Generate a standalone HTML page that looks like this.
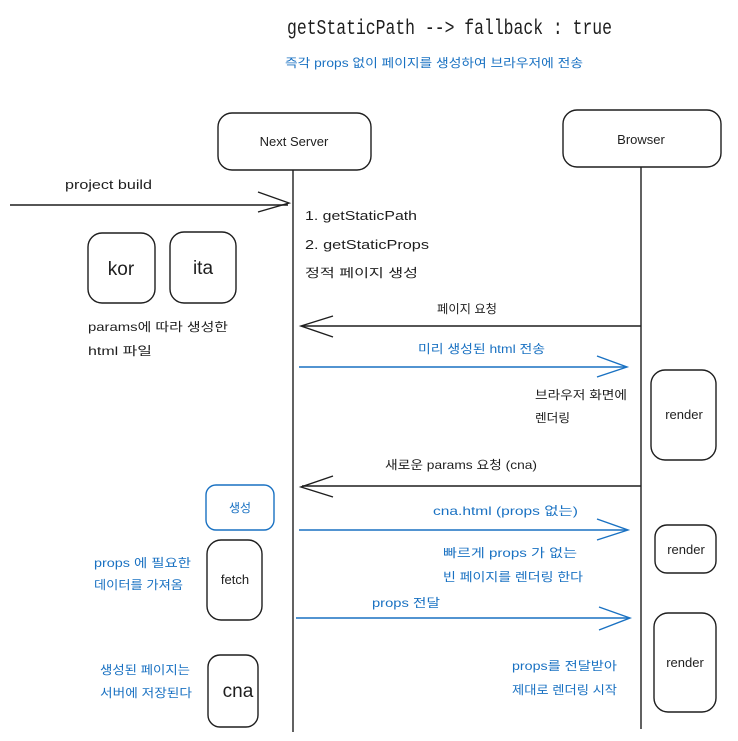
<!DOCTYPE html>
<html><head><meta charset="utf-8"><style>
html,body{margin:0;padding:0;background:#fff;}
svg text{font-family:"Liberation Sans","Noto Sans CJK KR",sans-serif;}
svg text.mono{font-family:"Liberation Mono",monospace;}
</style></head><body>
<svg width="738" height="736" viewBox="0 0 738 736" xmlns="http://www.w3.org/2000/svg">
<g fill="none" stroke="#1e1e1e" stroke-width="1.4">
<rect x="218" y="113" width="153" height="57" rx="14"/>
<rect x="563" y="110" width="158" height="57" rx="14"/>
<line x1="293" y1="170" x2="293" y2="732"/>
<line x1="641" y1="167" x2="641" y2="729"/>
<line x1="10" y1="205" x2="288" y2="205"/>
<polyline points="258,192 289,203 258,212"/>
<rect x="88" y="233" width="67" height="70" rx="14"/>
<rect x="170" y="232" width="66" height="71" rx="14"/>
<line x1="641" y1="326" x2="302" y2="326"/>
<polyline points="333,316 301,326 333,337"/>
<rect x="651" y="370" width="65" height="90" rx="14"/>
<line x1="641" y1="486" x2="302" y2="486"/>
<polyline points="333,476 301,487 333,497"/>
<rect x="655" y="525" width="61" height="48" rx="12"/>
<rect x="207" y="540" width="55" height="80" rx="14"/>
<rect x="654" y="613" width="62" height="99" rx="14"/>
<rect x="208" y="655" width="50" height="72" rx="12"/>
</g>
<g fill="none" stroke="#1971c2" stroke-width="1.4">
<line x1="299" y1="367" x2="626" y2="367"/>
<polyline points="597,356 627,367 597,377"/>
<rect x="206" y="485" width="68" height="45" rx="10"/>
<line x1="299" y1="530" x2="627" y2="530"/>
<polyline points="597,519 628,530 597,540"/>
<line x1="296" y1="618" x2="629" y2="618"/>
<polyline points="599,607 630,618 599,630"/>
</g>
<g fill="#1e1e1e" font-size="13">
<text class="mono" x="287" y="34" font-size="21" textLength="325" lengthAdjust="spacingAndGlyphs">getStaticPath --&gt; fallback : true</text>
<text x="294" y="146" text-anchor="middle">Next Server</text>
<text x="641" y="144" text-anchor="middle">Browser</text>
<text x="65" y="189" textLength="87" lengthAdjust="spacingAndGlyphs">project build</text>
<text x="305" y="220" textLength="112" lengthAdjust="spacingAndGlyphs">1. getStaticPath</text>
<text x="305" y="249" textLength="124" lengthAdjust="spacingAndGlyphs">2. getStaticProps</text>
<text x="305" y="277" font-size="12" textLength="113" lengthAdjust="spacingAndGlyphs">정적 페이지 생성</text>
<text x="121" y="275" font-size="19" text-anchor="middle">kor</text>
<text x="203" y="274" font-size="19" text-anchor="middle">ita</text>
<text x="88" y="331" font-size="12" textLength="140" lengthAdjust="spacingAndGlyphs">params에 따라 생성한</text>
<text x="88" y="355" font-size="12" textLength="64" lengthAdjust="spacingAndGlyphs">html 파일</text>
<text x="437" y="313" font-size="12" textLength="60" lengthAdjust="spacingAndGlyphs">페이지 요청</text>
<text x="535" y="399" font-size="12" textLength="92" lengthAdjust="spacingAndGlyphs">브라우저 화면에</text>
<text x="535" y="422" font-size="12" textLength="35" lengthAdjust="spacingAndGlyphs">렌더링</text>
<text x="684" y="419" text-anchor="middle">render</text>
<text x="385" y="469" font-size="12" textLength="152" lengthAdjust="spacingAndGlyphs">새로운 params 요청 (cna)</text>
<text x="686" y="554" text-anchor="middle">render</text>
<text x="235" y="584" text-anchor="middle">fetch</text>
<text x="685" y="667" text-anchor="middle">render</text>
<text x="238" y="697" font-size="19" text-anchor="middle">cna</text>
</g>
<g fill="#1971c2" font-size="12">
<text x="285" y="67" textLength="298" lengthAdjust="spacingAndGlyphs">즉각 props 없이 페이지를 생성하여 브라우저에 전송</text>
<text x="418" y="353" textLength="127" lengthAdjust="spacingAndGlyphs">미리 생성된 html 전송</text>
<text x="240" y="512" text-anchor="middle">생성</text>
<text x="433" y="515" textLength="145" lengthAdjust="spacingAndGlyphs">cna.html (props 없는)</text>
<text x="94" y="567" textLength="97" lengthAdjust="spacingAndGlyphs">props 에 필요한</text>
<text x="94" y="589" textLength="89" lengthAdjust="spacingAndGlyphs">데이터를 가져옴</text>
<text x="443" y="557" textLength="134" lengthAdjust="spacingAndGlyphs">빠르게 props 가 없는</text>
<text x="443" y="581" textLength="140" lengthAdjust="spacingAndGlyphs">빈 페이지를 렌더링 한다</text>
<text x="372" y="607" textLength="68" lengthAdjust="spacingAndGlyphs">props 전달</text>
<text x="100" y="674" textLength="90" lengthAdjust="spacingAndGlyphs">생성된 페이지는</text>
<text x="100" y="697" textLength="92" lengthAdjust="spacingAndGlyphs">서버에 저장된다</text>
<text x="512" y="670" textLength="105" lengthAdjust="spacingAndGlyphs">props를 전달받아</text>
<text x="512" y="694" textLength="105" lengthAdjust="spacingAndGlyphs">제대로 렌더링 시작</text>
</g>
</svg>
</body></html>
